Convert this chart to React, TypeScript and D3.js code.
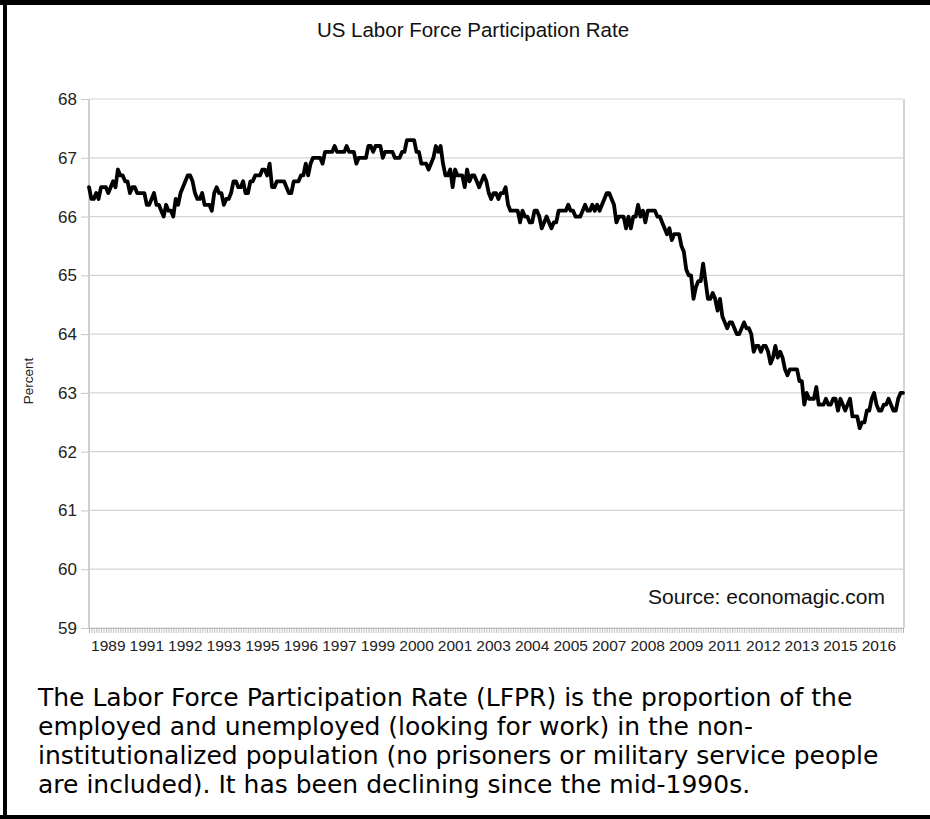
import { useRef, useEffect } from "react";
import * as d3 from "d3";

// Monthly LFPR, Jan 1989 .. Mar 2017
const lfpr = [
  66.5, 66.3, 66.3, 66.4, 66.3, 66.5, 66.5, 66.5, 66.4, 66.5, 66.6, 66.5, // 1989
  66.8, 66.7, 66.7, 66.6, 66.6, 66.4, 66.5, 66.5, 66.4, 66.4, 66.4, 66.4, // 1990
  66.2, 66.2, 66.3, 66.4, 66.2, 66.2, 66.1, 66.0, 66.2, 66.1, 66.1, 66.0, // 1991
  66.3, 66.2, 66.4, 66.5, 66.6, 66.7, 66.7, 66.6, 66.4, 66.3, 66.3, 66.4, // 1992
  66.2, 66.2, 66.2, 66.1, 66.4, 66.5, 66.4, 66.4, 66.2, 66.3, 66.3, 66.4, // 1993
  66.6, 66.6, 66.5, 66.5, 66.6, 66.4, 66.4, 66.6, 66.6, 66.7, 66.7, 66.7, // 1994
  66.8, 66.8, 66.7, 66.9, 66.5, 66.5, 66.6, 66.6, 66.6, 66.6, 66.5, 66.4, // 1995
  66.4, 66.6, 66.6, 66.6, 66.7, 66.7, 66.9, 66.7, 66.9, 67.0, 67.0, 67.0, // 1996
  67.0, 66.9, 67.1, 67.1, 67.1, 67.1, 67.2, 67.1, 67.1, 67.1, 67.1, 67.2, // 1997
  67.1, 67.1, 67.1, 66.9, 67.0, 67.0, 67.0, 67.0, 67.2, 67.2, 67.1, 67.2, // 1998
  67.2, 67.2, 67.0, 67.1, 67.1, 67.1, 67.1, 67.0, 67.0, 67.0, 67.1, 67.1, // 1999
  67.3, 67.3, 67.3, 67.3, 67.1, 67.1, 66.9, 66.9, 66.9, 66.8, 66.9, 67.0, // 2000
  67.2, 67.1, 67.2, 66.9, 66.7, 66.7, 66.8, 66.5, 66.8, 66.7, 66.7, 66.7, // 2001
  66.5, 66.8, 66.6, 66.7, 66.7, 66.6, 66.5, 66.6, 66.7, 66.6, 66.4, 66.3, // 2002
  66.4, 66.4, 66.3, 66.4, 66.4, 66.5, 66.2, 66.1, 66.1, 66.1, 66.1, 65.9, // 2003
  66.1, 66.0, 66.0, 65.9, 65.9, 66.1, 66.1, 66.0, 65.8, 65.9, 66.0, 65.9, // 2004
  65.8, 65.9, 65.9, 66.1, 66.1, 66.1, 66.1, 66.2, 66.1, 66.1, 66.0, 66.0, // 2005
  66.0, 66.1, 66.2, 66.1, 66.1, 66.2, 66.1, 66.2, 66.1, 66.2, 66.3, 66.4, // 2006
  66.4, 66.3, 66.2, 65.9, 66.0, 66.0, 66.0, 65.8, 66.0, 65.8, 66.0, 66.0, // 2007
  66.2, 66.0, 66.1, 65.9, 66.1, 66.1, 66.1, 66.1, 66.0, 66.0, 65.9, 65.8, // 2008
  65.7, 65.8, 65.6, 65.7, 65.7, 65.7, 65.5, 65.4, 65.1, 65.0, 65.0, 64.6, // 2009
  64.8, 64.9, 64.9, 65.2, 64.9, 64.6, 64.6, 64.7, 64.6, 64.4, 64.6, 64.3, // 2010
  64.2, 64.1, 64.2, 64.2, 64.1, 64.0, 64.0, 64.1, 64.2, 64.1, 64.1, 64.0, // 2011
  63.7, 63.8, 63.8, 63.7, 63.8, 63.8, 63.7, 63.5, 63.6, 63.8, 63.6, 63.7, // 2012
  63.6, 63.4, 63.3, 63.4, 63.4, 63.4, 63.4, 63.2, 63.2, 62.8, 63.0, 62.9, // 2013
  62.9, 62.9, 63.1, 62.8, 62.8, 62.8, 62.9, 62.8, 62.8, 62.9, 62.9, 62.7, // 2014
  62.9, 62.8, 62.7, 62.8, 62.9, 62.6, 62.6, 62.6, 62.4, 62.5, 62.5, 62.7, // 2015
  62.7, 62.9, 63.0, 62.8, 62.7, 62.7, 62.8, 62.8, 62.9, 62.8, 62.7, 62.7, // 2016
  62.9, 63.0, 63.0, // 2017
];

// category label shown every 16 months, starting Sep 1989
const firstLabelIndex = 8;
const labelStep = 16;
const xLabels = [
  "1989", "1991", "1992", "1993", "1995", "1996", "1997", "1999", "2000", "2001", "2003",
  "2004", "2005", "2007", "2008", "2009", "2011", "2012", "2013", "2015", "2016",
];
const yTicks = [59, 60, 61, 62, 63, 64, 65, 66, 67, 68];

const noteLines = [
  "The Labor Force Participation Rate (LFPR) is the proportion of the",
  "employed and unemployed (looking for work) in the non-",
  "institutionalized population (no prisoners or military service people",
  "are included). It has been declining since the mid-1990s.",
];

const App = () => {
  const ref = useRef<SVGSVGElement>(null);

  useEffect(() => {
    if (!ref.current) return;
    const width = 930;
    const height = 819;
    const left = 89;
    const right = 903;
    const top = 99;
    const bottom = 628;
    const font = "'Liberation Sans', Arial, sans-serif";

    const svg = d3.select(ref.current);
    svg.selectAll("*").remove();
    svg.attr("width", width).attr("height", height);

    svg.append("rect").attr("width", width).attr("height", height).attr("fill", "#fff");

    const x = d3.scaleLinear().domain([0, lfpr.length - 1]).range([left, right]);
    const y = d3.scaleLinear().domain([59, 68]).range([bottom, top]);

    // y axis ticks and labels
    const yAxis = svg
      .append("g")
      .attr("transform", `translate(${left},0)`)
      .call(
        d3
          .axisLeft(y)
          .tickValues(yTicks)
          .tickFormat(d3.format("d"))
          .tickSize(8)
          .tickPadding(4)
      );
    yAxis.select(".domain").remove();
    yAxis.selectAll("line").attr("stroke", "#c8c8c8");
    yAxis
      .selectAll("text")
      .attr("font-family", font)
      .attr("font-size", 17)
      .attr("fill", "#222");

    // gridlines
    svg
      .append("g")
      .selectAll("line")
      .data(yTicks)
      .join("line")
      .attr("x1", left)
      .attr("x2", right)
      .attr("y1", (d) => y(d))
      .attr("y2", (d) => y(d))
      .attr("stroke", "#d4d4d4")
      .attr("stroke-width", 1.2);

    // plot frame sides
    svg.append("line").attr("x1", left).attr("x2", left).attr("y1", top).attr("y2", bottom)
      .attr("stroke", "#cfcfcf").attr("stroke-width", 2);
    svg.append("line").attr("x1", right + 1).attr("x2", right + 1).attr("y1", top).attr("y2", bottom)
      .attr("stroke", "#d4d4d4").attr("stroke-width", 2);

    // monthly minor ticks
    const xAxis = svg
      .append("g")
      .attr("transform", `translate(0,${bottom})`)
      .call(
        d3
          .axisBottom(x)
          .tickValues(d3.range(lfpr.length))
          .tickSize(5)
          .tickFormat(() => "")
      );
    xAxis.select(".domain").attr("stroke", "#bdbdbd");
    xAxis.selectAll(".tick line").attr("stroke", "#b0b0b0").attr("stroke-width", 0.8);

    // category labels
    svg
      .append("g")
      .selectAll("text")
      .data(xLabels)
      .join("text")
      .attr("x", (_, i) => x(firstLabelIndex + i * labelStep))
      .attr("y", bottom + 23)
      .attr("text-anchor", "middle")
      .attr("font-family", font)
      .attr("font-size", 15.5)
      .attr("fill", "#222")
      .text((d) => d);

    // the series
    const line = d3
      .line<number>()
      .x((_, i) => x(i))
      .y((d) => y(d));
    svg
      .append("path")
      .datum(lfpr)
      .attr("d", line)
      .attr("fill", "none")
      .attr("stroke", "#000")
      .attr("stroke-width", 3.8)
      .attr("stroke-linejoin", "round")
      .attr("stroke-linecap", "round");

    // title
    svg.append("text").attr("x", 473).attr("y", 37).attr("text-anchor", "middle")
      .attr("font-family", font).attr("font-size", 20.5).attr("fill", "#111")
      .text("US Labor Force Participation Rate");

    // y title
    svg.append("text")
      .attr("transform", `translate(33,381) rotate(-90)`)
      .attr("text-anchor", "middle")
      .attr("font-family", font).attr("font-size", 13.5).attr("fill", "#222")
      .text("Percent");

    // source note
    svg.append("text").attr("x", 885).attr("y", 604).attr("text-anchor", "end")
      .attr("font-family", font).attr("font-size", 21).attr("fill", "#111")
      .text("Source: economagic.com");

    // description
    svg.append("g")
      .selectAll("text")
      .data(noteLines)
      .join("text")
      .attr("x", 38)
      .attr("y", (_, i) => 706 + i * 29)
      .attr("font-family", "Verdana, 'DejaVu Sans', sans-serif")
      .attr("font-size", 25)
      .attr("fill", "#000")
      .text((d) => d);

    // outer frame
    svg.append("line").attr("x1", 0).attr("x2", width).attr("y1", 2.5).attr("y2", 2.5)
      .attr("stroke", "#000").attr("stroke-width", 5);
    svg.append("line").attr("x1", 5).attr("x2", 5).attr("y1", 0).attr("y2", height)
      .attr("stroke", "#000").attr("stroke-width", 4);
    svg.append("line").attr("x1", 0).attr("x2", width).attr("y1", 817).attr("y2", 817)
      .attr("stroke", "#000").attr("stroke-width", 4);
  }, []);

  return (
    <div style={{ position: "absolute", left: 0, top: 0 }}>
      <svg ref={ref}></svg>
    </div>
  );
};

export default App;
